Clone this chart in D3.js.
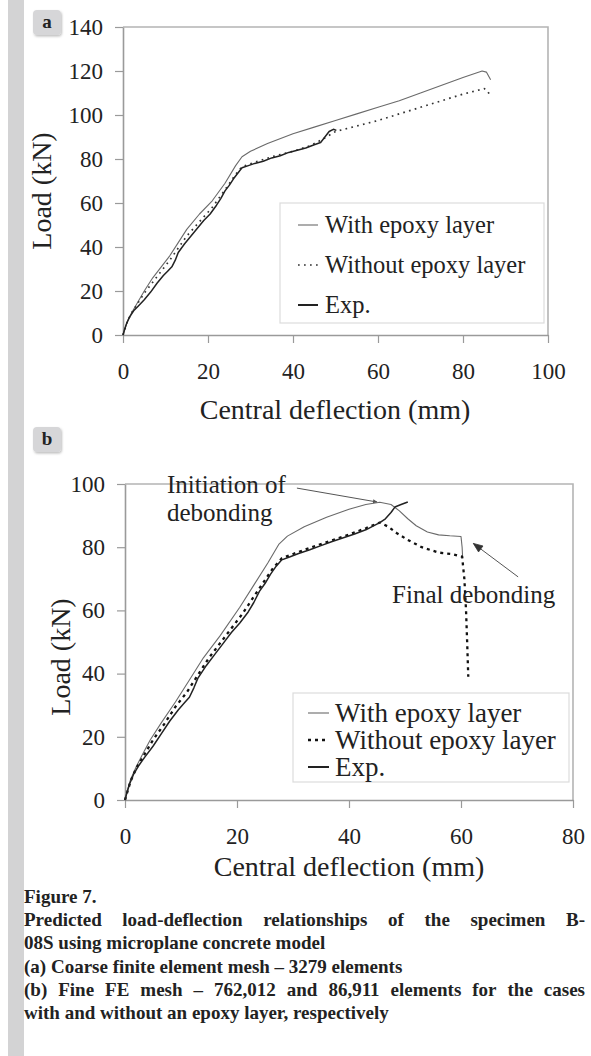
<!DOCTYPE html>
<html>
<head>
<meta charset="utf-8">
<script src="https://cdn.jsdelivr.net/npm/d3@7/dist/d3.min.js"></script>
<style>
  html, body { margin: 0; padding: 0; background: #fff; }
  svg { display: block; }
  text { font-family: "Liberation Serif", "Times New Roman", serif; fill: #222; }
</style>
</head>
<body>
<svg id="fig" width="591" height="1056"></svg>
<script>
// ---- Panel (a): coarse mesh ----
const xTicksA = [0, 20, 40, 60, 80, 100];
const yTicksA = [0, 20, 40, 60, 80, 100, 120, 140];

const withEpoxyA = [[0,0],[0.5,3],[1,6],[2,10],[3.5,15],[5,20],[7,26],[9,31],[11,36],[13,42],[15,48],
  [18,55],[21,61],[24,69],[26.5,77],[28,81],[30,83.5],[34,87],[40,91.5],[45,94.5],[50,97.5],[55,100.5],
  [60,103.5],[65,106.5],[70,110],[75,113.5],[80,117],[84.5,120],[85.5,119.5],[86.5,116]];

const withoutEpoxyA = [[0,0],[0.5,3],[1,6],[2,10],[3.5,14.5],[5,19],[7,24],[9,29],[11,34],[13,39.5],
  [15,45],[18,51.5],[21,58],[24,66],[26.5,73],[28,76.5],[31,78.5],[35,81],[40,83.5],[44,86],[47,89],
  [50,92.5],[55,95],[60,97.5],[65,100.5],[70,103.5],[75,106.5],[80,109.5],[85,112],[85.8,111],[86.5,108]];

const expA = [[0,0],[0.3,2],[0.8,5],[1.5,8],[2.5,11],[3.5,13],[5,16],[6.5,19.5],[8,23.5],[9.5,27],
  [10.5,29],[11.5,31],[12.3,34],[13,37.5],[14.5,41.5],[16,45],[17.5,48.5],[19,52],[20.5,55],[22,59],
  [23,62],[24,65.5],[25,68],[26,71],[27,73.5],[28,76],[29.5,77],[31,78],[33,79],[35,80.5],[37,81.5],
  [39,83],[41,84],[43,85],[45,86.5],[46.5,87.5],[47.5,90],[48.5,92.5],[49.5,93.5],[50.2,93]];

// ---- Panel (b): fine mesh ----
const xTicksB = [0, 20, 40, 60, 80];
const yTicksB = [0, 20, 40, 60, 80, 100];

const withEpoxyB = [[0,0],[0.5,3.5],[1,6.5],[2,10.5],[3,14],[4.5,19],[6.5,24.5],[9,31],[11.5,38],[14,45],
  [17,52],[20.5,61],[23,68],[25.5,75],[27.5,81],[29,83.5],[32,86.5],[36,89.5],[40,92],[43,93.5],
  [45.5,94.2],[47.5,93.5],[49,91.5],[50.5,89],[52,86.8],[54,84.8],[56,83.9],[58,83.6],[60,83.4],
  [60.2,80],[60.3,76.5]];

const withoutEpoxyB = [[0,0],[0.5,3],[1,6],[2,10],[3.5,14.5],[5,19],[7,24],[9,29.5],[11,34],[13,39.5],
  [15,45],[18,52],[21,59],[24,67],[26.5,73.5],[28,76.5],[31,78.5],[35,81],[40,84],[43,86],[45.5,87.8],
  [47,86.5],[48.5,84.5],[50.5,82.3],[53,80],[56,78.3],[58.5,77.8],[60.2,77],[60.6,70],[60.9,60],
  [61.1,50],[61.3,39]];

const expB = [[0,0],[0.3,2],[0.8,5],[1.5,8],[2.5,11],[3.5,13.5],[5,17],[6.5,21],[8,25],[9.5,28.5],
  [10.5,30.5],[11.5,32.5],[12.3,35.5],[13,38.5],[14.5,42.5],[16,46],[17.5,49.5],[19,53],[20.5,56],
  [22,59.5],[23,62.5],[24,66],[25,68.5],[26,71.5],[27,74],[28,76],[29.5,77],[31,78],[33,79.2],[35,80.5],
  [37,81.8],[39,83],[41,84.2],[43,85.5],[45.5,87.8],[46.5,89],[47.5,91],[48.2,92.7],[49.3,93.5],[50.5,94.3]];

const seriesNames = ["With epoxy layer", "Without epoxy layer", "Exp."];

const captionTitle = "Figure 7.";
const captionLines = [
  {t: "Predicted load-deflection relationships of the specimen B-", justify: true},
  {t: "08S using microplane concrete model", justify: false},
  {t: "(a) Coarse finite element mesh \u2013 3279 elements", justify: false},
  {t: "(b) Fine FE mesh \u2013 762,012 and 86,911 elements for the cases", justify: true},
  {t: "with and without an epoxy layer, respectively", justify: false}
];

const svg = d3.select("#fig");

// drop shadow for the panel letter boxes
const defs = svg.append("defs");
const f = defs.append("filter").attr("id", "shadow").attr("x", "-30%").attr("y", "-30%")
  .attr("width", "160%").attr("height", "160%");
f.append("feDropShadow").attr("dx", 1).attr("dy", 1.5).attr("stdDeviation", 1.2)
  .attr("flood-color", "#000").attr("flood-opacity", 0.25);
defs.append("marker").attr("id", "dotHead").attr("viewBox", "0 0 10 10")
  .attr("refX", 8).attr("refY", 5).attr("markerWidth", 5).attr("markerHeight", 5)
  .attr("orient", "auto")
  .append("path").attr("d", "M0,1 L9,5 L0,9 Z").attr("fill", "#555");

// side bar
svg.append("rect").attr("x", 8).attr("y", 0).attr("width", 16).attr("height", 1056).attr("fill", "#d3d3d4");

function letterBox(x, y, letter) {
  svg.append("rect").attr("x", x).attr("y", y).attr("width", 28).attr("height", 25).attr("rx", 4)
    .attr("fill", "#d6d6d8").attr("filter", "url(#shadow)");
  svg.append("text").attr("x", x + 14).attr("y", y + 18).attr("text-anchor", "middle")
    .attr("font-size", 19).attr("font-weight", "bold").text(letter);
}

const styles = [
  {stroke: "#6a6a6a", width: 1.1, dash: null},
  null,
  {stroke: "#222", width: 1.5, dash: null}
];

function panel(o) {
  const x = d3.scaleLinear().domain(o.xDomain).range(o.xRange);
  const y = d3.scaleLinear().domain(o.yDomain).range(o.yRange);
  const g = svg.append("g");

  // plot frame (top and right edges)
  g.append("path")
    .attr("d", `M${x(o.xDomain[0])},${y(o.yDomain[1])} H${x(o.xDomain[1])} V${y(o.yDomain[0])}`)
    .attr("fill", "none").attr("stroke", "#b4b4b4").attr("stroke-width", 1.6);

  const ax = g.append("g").attr("transform", `translate(0,${y(o.yDomain[0])})`)
    .call(d3.axisBottom(x).tickValues(o.xTicks).tickSize(8).tickSizeOuter(0).tickPadding(20));
  const ay = g.append("g").attr("transform", `translate(${x(o.xDomain[0])},0)`)
    .call(d3.axisLeft(y).tickValues(o.yTicks).tickSize(8).tickSizeOuter(0).tickPadding(12));
  [ax, ay].forEach(a => {
    a.select(".domain").attr("stroke", "#9a9a9a").attr("stroke-width", 1.6);
    a.selectAll(".tick line").attr("stroke", "#9a9a9a").attr("stroke-width", 1.2);
    a.selectAll(".tick text").attr("font-family", "Liberation Serif, serif")
      .attr("font-size", 23).attr("fill", "#222");
  });

  g.append("text").attr("x", o.xTitle[0]).attr("y", o.xTitle[1]).attr("text-anchor", "middle")
    .attr("font-size", 28).text("Central deflection (mm)");
  g.append("text").attr("transform", `translate(${o.yTitle[0]},${o.yTitle[1]}) rotate(-90)`)
    .attr("text-anchor", "middle").attr("font-size", 28).text("Load (kN)");

  const line = d3.line().x(d => x(d[0])).y(d => y(d[1]));
  const sty = [styles[0], o.dottedStyle, styles[2]];
  [o.withEpoxy, o.withoutEpoxy, o.exp].forEach((s, i) => {
    g.append("path").datum(s).attr("d", line).attr("fill", "none")
      .attr("stroke", sty[i].stroke).attr("stroke-width", sty[i].width)
      .attr("stroke-dasharray", sty[i].dash).attr("stroke-linejoin", "round");
  });

  // legend
  const L = o.legend;
  g.append("rect").attr("x", L.x).attr("y", L.y).attr("width", L.w).attr("height", L.h)
    .attr("fill", "#fff").attr("stroke", "#dcdcdc").attr("stroke-width", 1.2);
  seriesNames.forEach((name, i) => {
    const cy = L.y + L.first + i * L.step;
    g.append("line").attr("x1", L.x + L.lx0).attr("x2", L.x + L.lx1).attr("y1", cy).attr("y2", cy)
      .attr("stroke", sty[i].stroke).attr("stroke-width", i === 2 ? 2 : sty[i].width)
      .attr("stroke-dasharray", sty[i].dash);
    g.append("text").attr("x", L.x + L.tx).attr("y", cy + L.fs * 0.33).attr("font-size", L.fs).text(name);
  });
  return {x, y, g};
}

letterBox(33, 10, "a");
panel({
  xDomain: [0, 100], xRange: [123, 548], yDomain: [0, 140], yRange: [335, 27],
  xTicks: xTicksA, yTicks: yTicksA,
  xTitle: [335, 419], yTitle: [51, 191],
  withEpoxy: withEpoxyA, withoutEpoxy: withoutEpoxyA, exp: expA,
  dottedStyle: {stroke: "#333", width: 1.7, dash: "1.7,4.3"},
  legend: {x: 280, y: 203, w: 264, h: 120, first: 22, step: 40, lx0: 18, lx1: 38, tx: 45, fs: 24.5}
});

letterBox(33, 427, "b");
const pb = panel({
  xDomain: [0, 80], xRange: [125, 573], yDomain: [0, 100], yRange: [800, 484],
  xTicks: xTicksB, yTicks: yTicksB,
  xTitle: [349, 876], yTitle: [70, 657],
  withEpoxy: withEpoxyB, withoutEpoxy: withoutEpoxyB, exp: expB,
  dottedStyle: {stroke: "#111", width: 2.3, dash: "3,4"},
  legend: {x: 293, y: 693, w: 276, h: 89, first: 20, step: 27, lx0: 15, lx1: 36, tx: 42, fs: 27}
});

// annotations in panel (b), placed in data units
const xb = pb.x, yb = pb.y;
svg.append("text").attr("x", xb(7.5)).attr("y", yb(97.2)).attr("font-size", 25).text("Initiation of");
svg.append("text").attr("x", xb(7.5)).attr("y", yb(88.2)).attr("font-size", 25).text("debonding");
svg.append("line").attr("x1", xb(30.7)).attr("y1", yb(98.7)).attr("x2", xb(45)).attr("y2", yb(94.3))
  .attr("stroke", "#555").attr("stroke-width", 1).attr("marker-end", "url(#dotHead)");

svg.append("text").attr("x", xb(47.7)).attr("y", yb(62.3)).attr("font-size", 25).text("Final debonding");
const ax0 = xb(70.2), ay0 = yb(70.6), ax1 = xb(62.2), ay1 = yb(81.2);
svg.append("line").attr("x1", ax0).attr("y1", ay0).attr("x2", ax1).attr("y2", ay1)
  .attr("stroke", "#555").attr("stroke-width", 1);
{
  const ang = Math.atan2(ay0 - ay1, ax0 - ax1), len = 10, spread = 0.38;
  svg.append("path")
    .attr("d", `M${ax1 + len * Math.cos(ang - spread)},${ay1 + len * Math.sin(ang - spread)} L${ax1},${ay1} L${ax1 + len * Math.cos(ang + spread)},${ay1 + len * Math.sin(ang + spread)} Z`)
    .attr("fill", "#333").attr("stroke", "#333").attr("stroke-width", 0.8);
}

// caption
const capX = 24, capRight = 585, capFs = 19, capTop = 903, capStep = 23.2;
svg.append("text").attr("x", capX).attr("y", capTop).attr("font-size", capFs)
  .attr("font-weight", "bold").text(captionTitle);
captionLines.forEach((ln, i) => {
  const yy = capTop + (i + 1) * capStep;
  const t = svg.append("text").attr("x", capX).attr("y", yy).attr("font-size", capFs).attr("font-weight", "bold");
  if (!ln.justify) { t.text(ln.t); return; }
  const words = ln.t.split(" ");
  const spans = words.map(w => t.append("tspan").text(w));
  const widths = spans.map(s => s.node().getComputedTextLength());
  const total = d3.sum(widths);
  const gap = (capRight - capX - total) / (words.length - 1);
  let cx = capX;
  spans.forEach((s, k) => { s.attr("x", cx); cx += widths[k] + gap; });
});
</script>
</body>
</html>
